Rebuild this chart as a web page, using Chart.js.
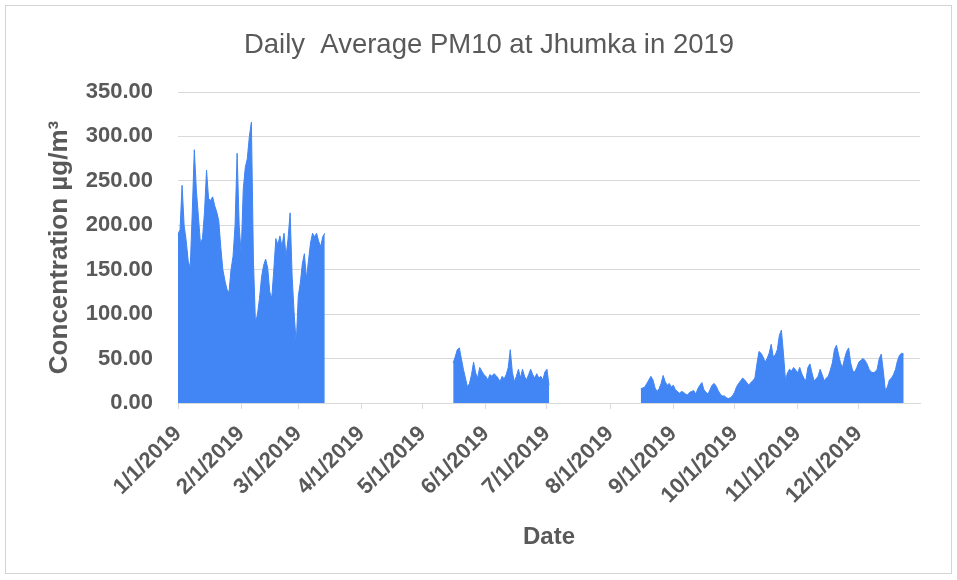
<!DOCTYPE html>
<html>
<head>
<meta charset="utf-8">
<script src="https://cdn.jsdelivr.net/npm/chart.js@4/dist/chart.umd.min.js"></script>
<style>
  html, body { margin: 0; padding: 0; background: #fff; }
  #wrap { position: relative; width: 957px; height: 580px; }
  #pm10Chart { position: absolute; left: 0; top: 0; }
  #frame { position: absolute; left: 5px; top: 5px; width: 945px; height: 567px;
           border: 1px solid #d4d4d4; pointer-events: none; }
</style>
</head>
<body>
<div id="wrap">
  <canvas id="pm10Chart" width="957" height="580"></canvas>
  <div id="frame"></div>
</div>
<script>
// daily averages, in µg/m3 (gaps = no data)
const janToMar = [ // from 1/1/2019
  190, 195, 245, 200, 183, 160, 152, 215, 285, 240,
  210, 180, 185, 215, 262, 230, 228, 232, 222, 215,
  205, 175, 150, 138, 128, 124, 150, 165, 200, 281,
  200, 168, 240, 265, 275, 300, 316, 160, 90, 100,
  118, 142, 155, 162, 152, 125, 118, 150, 185, 178,
  188, 176, 191, 165, 185, 214, 142, 100, 67, 120,
  135, 157, 168, 140, 160, 180, 191, 187, 191, 182,
  176, 187, 191
];
const mayToJul = [ // from 5/16/2019
  45, 52, 60, 62, 50, 38, 28, 18, 22, 32,
  46, 34, 28, 40, 36, 32, 30, 26, 32, 30,
  33, 31, 28, 24, 30, 27, 32, 40, 60, 35,
  24, 30, 38, 28, 38, 30, 26, 32, 38, 32,
  28, 33, 28, 30, 26, 35, 38, 20
];
const augToDec = [ // from 8/16/2019
  16, 17, 18, 22, 26, 30, 26, 17, 13, 16,
  22, 31, 24, 20, 22, 18, 20, 15, 13, 11,
  13, 12, 10, 9, 12, 13, 14, 10, 16, 20,
  23, 15, 12, 10, 15, 20, 22, 19, 14, 10,
  8, 8, 6, 5, 6, 8, 12, 18, 22, 25,
  28, 26, 23, 20, 23, 25, 28, 44, 58, 56,
  52, 46, 50, 56, 66, 52, 54, 60, 76, 82,
  56, 26, 34, 38, 36, 40, 37, 34, 40, 33,
  28, 25, 40, 44, 34, 25, 27, 30, 38, 32,
  25, 28, 30, 37, 45, 60, 65, 55, 45, 40,
  50, 58, 62, 45, 36, 35, 40, 46, 48, 50,
  48, 44, 38, 35, 34, 35, 38, 50, 55, 36,
  14, 18, 26, 28, 32, 38, 48, 54, 56, 55
];
const segStarts = ['2019-01-01', '2019-05-16', '2019-08-16'];
const yTicks = [0, 50, 100, 150, 200, 250, 300, 350];

// one category per day of 2019
const days = [];
const labels = [];
for (let d = new Date(2019, 0, 1); d.getFullYear() === 2019; d.setDate(d.getDate() + 1)) {
  days.push(new Date(d));
  labels.push((d.getMonth() + 1) + '/' + d.getDate() + '/' + d.getFullYear());
}
const values = days.map(() => null);
[janToMar, mayToJul, augToDec].forEach((seg, k) => {
  const p = segStarts[k].split('-').map(Number);
  const start = new Date(p[0], p[1] - 1, p[2]);
  const idx = Math.round((start - days[0]) / 86400000);
  seg.forEach((v, i) => { values[idx + i] = v; });
});

const txt = '#595959';
const gridCol = '#d9d9d9';
const fam = '"Liberation Sans", Arial, sans-serif';

const ctx = document.getElementById('pm10Chart').getContext('2d');
const pm10Chart = new Chart(ctx, {
  type: 'line',
  data: {
    labels: labels,
    datasets: [{
      label: 'PM10',
      data: values,
      borderColor: '#4285F4',
      backgroundColor: '#4285F4',
      borderWidth: 1,
      pointRadius: 0,
      fill: 'origin',
      tension: 0,
      spanGaps: false
    }]
  },
  options: {
    responsive: false,
    animation: false,
    layout: { padding: { left: 38, right: 17, top: 0, bottom: 0 } },
    plugins: {
      legend: { display: false },
      tooltip: { enabled: false },
      title: {
        display: true,
        text: 'Daily  Average PM10 at Jhumka in 2019',
        color: txt,
        font: { family: fam, size: 27.5, weight: 'normal' },
        padding: { top: 28.5, bottom: 30.5 }
      }
    },
    scales: {
      x: {
        type: 'category',
        grid: { drawOnChartArea: false, color: gridCol, tickLength: 6 },
        border: { color: gridCol },
        ticks: {
          autoSkip: false,
          maxRotation: 45,
          minRotation: 45,
          padding: 12,
          color: txt,
          font: { family: fam, size: 22, weight: 'bold' },
          callback: (v, i) => days[i].getDate() === 1 ? labels[i] : null
        },
        title: {
          display: true,
          text: 'Date',
          color: txt,
          font: { family: fam, size: 24, weight: 'bold' },
          padding: { top: 0, bottom: 28.6 }
        },
        afterFit: (s) => { s.height = 177; }
      },
      y: {
        min: 0,
        max: 350,
        afterBuildTicks: (s) => { s.ticks = yTicks.map(v => ({ value: v })); },
        grid: { color: gridCol, drawTicks: false },
        border: { display: false },
        ticks: {
          padding: 25,
          color: txt,
          font: { family: fam, size: 22, weight: 'bold' },
          callback: (v) => Number(v).toFixed(2)
        },
        title: {
          display: true,
          text: 'Concentration µg/m³',
          color: txt,
          font: { family: fam, size: 26, weight: 'bold' },
          padding: { top: 6, bottom: 0 }
        },
        afterFit: (s) => { s.width = 140; }
      },
      // empty right margin inside the frame
      yRight: {
        position: 'right',
        min: 0,
        max: 350,
        grid: { display: false },
        border: { display: false },
        ticks: { display: false },
        afterFit: (s) => { s.width = 20; }
      }
    }
  }
});
</script>
</body>
</html>
